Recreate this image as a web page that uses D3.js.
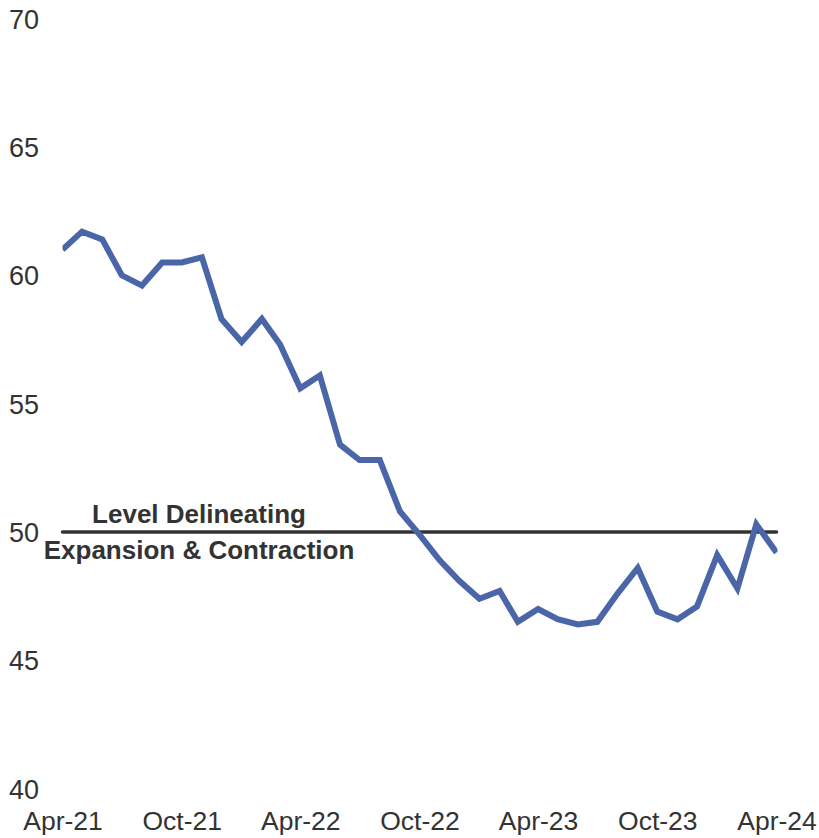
<!DOCTYPE html>
<html>
<head>
<meta charset="utf-8">
<script src="https://cdn.jsdelivr.net/npm/d3@7"></script>
<style>
  html, body { margin: 0; padding: 0; background: #ffffff; }
  svg { display: block; }
  text { font-family: "Liberation Sans", Arial, sans-serif; }
</style>
</head>
<body>
<svg id="chart" width="819" height="838"></svg>
<script>
// ---- Data ----
const months = [
  "2021-04","2021-05","2021-06","2021-07","2021-08","2021-09","2021-10","2021-11","2021-12",
  "2022-01","2022-02","2022-03","2022-04","2022-05","2022-06","2022-07","2022-08","2022-09",
  "2022-10","2022-11","2022-12","2023-01","2023-02","2023-03","2023-04","2023-05","2023-06",
  "2023-07","2023-08","2023-09","2023-10","2023-11","2023-12","2024-01","2024-02","2024-03","2024-04"
];
const values = [
  61.0, 61.7, 61.4, 60.0, 59.6, 60.5, 60.5, 60.7, 58.3,
  57.4, 58.3, 57.3, 55.6, 56.1, 53.4, 52.8, 52.8, 50.8,
  49.9, 48.9, 48.1, 47.4, 47.7, 46.5, 47.0, 46.6, 46.4,
  46.5, 47.6, 48.6, 46.9, 46.6, 47.1, 49.1, 47.8, 50.3, 49.2
];
const yTicks = [40, 45, 50, 55, 60, 65, 70];
const xTickMonths = ["2021-04","2021-10","2022-04","2022-10","2023-04","2023-10","2024-04"];
const thresholdValue = 50;
const thresholdLabel = ["Level Delineating", "Expansion & Contraction"];

// ---- Setup ----
const parse = d3.timeParse("%Y-%m");
const fmt = d3.timeFormat("%b-%y");
const data = months.map((m, i) => ({ date: parse(m), value: values[i] }));

const svg = d3.select("#chart");
const x = d3.scaleTime()
  .domain([parse(months[0]), parse(months[months.length - 1])])
  .range([62.5, 776.5]);
const y = d3.scaleLinear().domain([40, 70]).range([788.7, 18.6]);

const textColor = "#333333";

// Y axis labels
const yAxis = d3.axisLeft(y).tickValues(yTicks).tickSize(0).tickFormat(d3.format("d"));
const gy = svg.append("g").call(yAxis);
gy.select(".domain").remove();
gy.selectAll("text")
  .attr("x", 9)
  .attr("dy", "0.35em")
  .attr("text-anchor", "start")
  .attr("fill", textColor)
  .style("font-size", "27px")
  .style("font-family", "'Liberation Sans', Arial, sans-serif");

// X axis labels
const xAxis = d3.axisBottom(x).tickValues(xTickMonths.map(parse)).tickSize(0).tickFormat(fmt);
const gx = svg.append("g").attr("transform", "translate(0,830)").call(xAxis);
gx.select(".domain").remove();
gx.selectAll("text")
  .attr("y", 0)
  .attr("dy", "0")
  .attr("text-anchor", "middle")
  .attr("fill", textColor)
  .style("font-size", "26.5px")
  .style("font-family", "'Liberation Sans', Arial, sans-serif");

// Clip for line
svg.append("defs").append("clipPath").attr("id", "plotclip")
  .append("rect")
  .attr("x", x.range()[0])
  .attr("y", 0)
  .attr("width", x.range()[1] - x.range()[0] + 1)
  .attr("height", 838);

// Threshold line
svg.append("line")
  .attr("x1", x.range()[0])
  .attr("x2", x.range()[1])
  .attr("y1", y(thresholdValue))
  .attr("y2", y(thresholdValue))
  .attr("stroke", "#333333")
  .attr("stroke-width", 3.5)
  .attr("stroke-linecap", "round");

// Data line
const line = d3.line().x(d => x(d.date)).y(d => y(d.value));
svg.append("path")
  .datum(data)
  .attr("clip-path", "url(#plotclip)")
  .attr("d", line)
  .attr("fill", "none")
  .attr("stroke", "#4a66a8")
  .attr("stroke-width", 6)
  .attr("stroke-linejoin", "miter")
  .attr("stroke-linecap", "butt");

// Threshold label
const lbl = svg.append("text")
  .attr("text-anchor", "middle")
  .attr("fill", textColor)
  .style("font-size", "26px")
  .style("font-weight", "bold");
lbl.append("tspan").attr("x", 199).attr("y", y(thresholdValue) - 9).text(thresholdLabel[0]);
lbl.append("tspan").attr("x", 199).attr("y", y(thresholdValue) + 27).text(thresholdLabel[1]);
</script>
</body>
</html>
